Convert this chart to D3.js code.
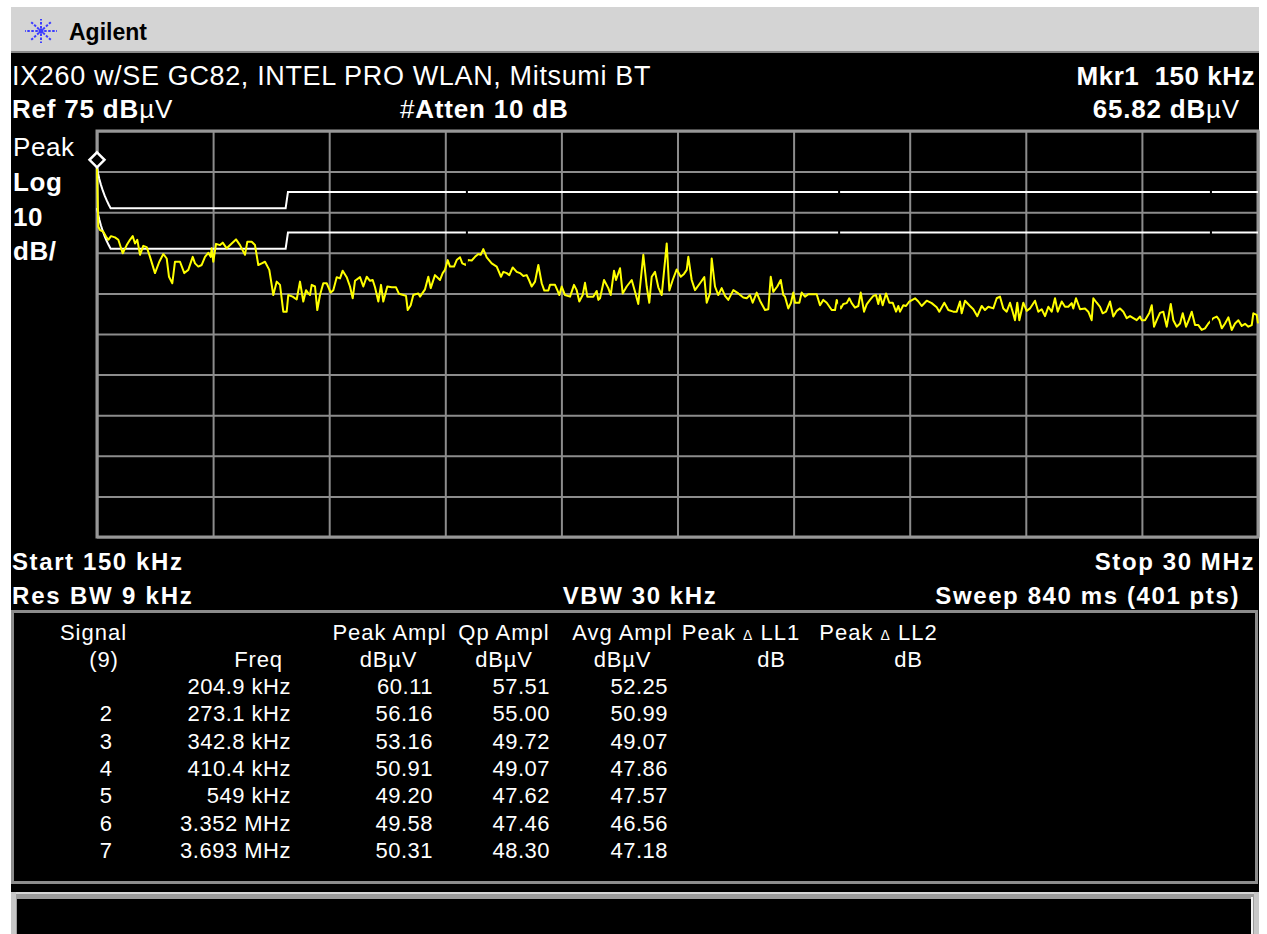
<!DOCTYPE html>
<html>
<head>
<meta charset="utf-8">
<script src="https://cdn.jsdelivr.net/npm/d3@7"></script>
<style>
html, body { margin: 0; padding: 0; background: #fff; }
svg { display: block; }
text { font-family: "Liberation Sans", Arial, Helvetica, sans-serif; fill: #fff; white-space: pre; }
</style>
</head>
<body>
<svg id="chart" width="1267" height="934"></svg>
<script>
// sweep settings
var startMHz = 0.15
var stopMHz = 30
var refLevel = 75
var dbPerDiv = 10
var divisions = 10

// trace (MHz, dBuV)
var traceFreq = [0.150,0.183,0.227,0.312,0.381,0.441,0.510,0.613,0.698,0.811,0.914,0.998,1.068,1.127,1.186,1.256,1.340,1.428,1.513,1.641,
  1.752,1.855,1.942,2.001,2.086,2.155,2.284,2.395,2.497,2.611,2.670,2.755,2.842,2.927,3.012,3.073,3.099,3.140,3.210,3.312,
  3.382,3.485,3.613,3.724,3.827,3.955,4.014,4.127,4.212,4.297,4.385,4.469,4.580,4.683,4.770,4.855,4.940,5.027,5.068,5.181,
  5.284,5.369,5.454,5.524,5.583,5.626,5.670,5.755,5.814,5.883,5.968,6.056,6.159,6.225,6.313,6.398,6.467,6.570,6.655,6.724,
  6.783,6.912,6.997,7.084,7.169,7.238,7.298,7.383,7.452,7.511,7.614,7.727,7.838,7.915,8.025,8.095,8.139,8.216,8.282,8.411,
  8.455,8.583,8.668,8.730,8.840,8.969,9.038,9.097,9.167,9.226,9.329,9.398,9.483,9.542,9.637,9.681,9.784,9.869,9.954,10.015,
  10.082,10.170,10.298,10.427,10.537,10.597,10.684,10.751,10.838,10.941,11.026,11.111,11.198,11.257,11.327,11.412,11.497,11.584,11.651,11.754,
  11.797,11.926,11.985,12.037,12.098,12.183,12.312,12.414,12.483,12.550,12.638,12.697,12.756,12.910,12.997,13.039,13.083,13.186,13.296,13.358,
  13.443,13.494,13.597,13.666,13.769,13.898,13.983,14.067,14.196,14.283,14.350,14.412,14.497,14.582,14.669,14.798,14.865,14.952,15.055,15.158,
  15.242,15.312,15.353,15.440,15.525,15.654,15.764,15.826,15.911,15.954,16.039,16.124,16.211,16.297,16.381,16.510,16.639,16.767,16.855,16.939,
  17.008,17.111,17.196,17.325,17.410,17.472,17.538,17.641,17.729,17.796,17.839,17.924,17.993,18.053,18.096,18.207,18.268,18.353,18.438,18.654,
  18.739,18.824,18.911,19.040,19.125,19.168,19.271,19.338,19.425,19.492,19.554,19.639,19.724,19.786,19.871,19.939,20.024,20.109,20.179,20.238,
  20.282,20.350,20.436,20.521,20.609,20.694,20.753,20.796,20.881,20.950,21.035,21.182,21.267,21.353,21.482,21.611,21.739,21.806,21.935,22.038,
  22.166,22.254,22.338,22.382,22.467,22.595,22.681,22.783,22.896,22.981,23.066,23.195,23.282,23.367,23.452,23.539,23.624,23.692,23.752,23.811,
  23.863,23.966,24.053,24.138,24.267,24.352,24.439,24.524,24.609,24.696,24.781,24.850,24.953,25.038,25.123,25.210,25.251,25.321,25.424,25.552,
  25.637,25.724,25.766,25.853,25.938,26.007,26.092,26.195,26.280,26.368,26.453,26.538,26.625,26.710,26.795,26.882,26.967,27.010,27.095,27.206,
  27.268,27.327,27.396,27.481,27.566,27.654,27.757,27.823,27.911,27.996,28.065,28.150,28.219,28.297,28.381,28.466,28.553,28.638,28.723,28.852,
  28.939,29.006,29.068,29.153,29.238,29.325,29.410,29.495,29.582,29.667,29.752,29.839,29.880,29.967,30.000]
var traceLevel = [65.8,51.4,50.6,50.2,49.0,48.2,49.1,48.8,48.2,44.9,46.9,48.2,49.1,47.3,48.2,44.5,46.7,46.4,44.0,40.0,
  42.8,44.7,43.6,39.1,37.5,42.8,42.8,40.0,40.8,44.0,42.4,41.6,42.0,44.0,45.0,44.0,46.1,42.8,47.2,46.9,
  47.5,46.1,47.3,48.3,46.9,44.5,47.7,47.7,46.9,42.0,42.4,42.8,40.8,34.6,37.9,37.1,30.5,30.5,34.6,34.2,
  33.5,37.9,33.0,35.8,35.0,34.6,37.1,36.7,30.9,34.6,37.5,37.5,35.2,35.8,39.0,38.7,40.6,39.0,36.7,33.8,
  38.1,39.0,36.7,39.1,38.1,38.3,36.5,33.0,37.1,33.0,36.7,36.5,36.5,34.9,34.6,34.4,30.9,32.1,34.6,35.0,
  34.2,36.0,39.1,36.3,39.5,38.3,40.0,40.8,43.2,41.6,41.6,43.2,43.9,42.4,42.0,43.2,43.1,44.0,44.7,44.5,
  45.9,43.9,42.4,41.6,39.1,40.3,40.0,39.5,41.4,40.3,40.0,39.3,39.5,38.3,36.7,37.9,42.0,37.5,35.7,35.7,
  37.1,37.1,35.8,34.6,36.7,34.6,34.2,37.1,35.8,33.0,34.6,37.6,34.2,34.2,35.6,33.4,33.8,38.3,36.3,34.6,
  40.6,38.3,41.2,35.0,36.7,38.3,35.4,32.4,44.5,36.7,32.7,39.1,40.3,36.5,34.6,47.3,35.7,38.3,40.9,39.1,
  39.8,40.8,44.0,38.3,35.8,37.5,39.0,32.7,35.0,43.6,36.7,34.6,36.3,34.4,33.4,35.8,35.0,34.0,33.8,34.6,
  32.7,35.2,33.2,30.9,31.1,39.1,35.4,36.7,38.3,34.6,34.2,31.3,32.7,35.2,32.7,32.7,35.2,34.2,34.8,34.8,
  32.1,33.4,32.7,30.9,30.9,33.4,31.3,32.4,32.6,33.8,32.6,31.5,31.9,35.2,30.5,32.3,33.4,34.4,34.6,32.4,
  34.6,32.1,35.0,32.7,32.7,30.5,31.9,30.5,32.1,31.9,33.0,33.8,33.0,31.9,33.2,32.6,31.6,30.5,32.7,30.9,
  30.5,30.5,33.0,30.1,33.2,31.9,31.1,29.4,31.9,30.9,31.7,31.3,33.8,34.2,31.3,30.5,32.7,30.5,28.4,32.7,
  28.4,32.7,30.7,31.3,33.2,30.5,31.1,29.4,31.7,30.5,33.8,30.5,33.0,31.7,31.7,32.6,31.3,33.8,31.1,31.3,
  30.5,28.4,33.8,32.7,31.7,30.1,30.5,33.0,29.3,30.7,31.3,30.5,28.9,29.4,28.9,28.4,29.3,28.4,28.4,30.2,
  32.1,26.8,28.4,30.2,30.5,26.8,32.4,28.4,26.8,27.6,30.1,26.8,28.4,30.5,27.2,27.2,26.0,26.4,27.6,28.9,
  29.3,28.4,26.4,27.6,29.1,26.0,27.6,28.4,27.0,27.5,26.8,27.2,30.1,29.7,27.6]

// display segment breaks seen on trace + limit lines
var traceBreaks = [9.66, 19.23, 28.79]

// limit lines (CISPR 22 class B, QP and average)
var limitFreq = [0.15, 0.18, 0.21, 0.25, 0.30, 0.35, 0.40, 0.45, 0.50, 5.00, 5.06, 30]
var qpLimit   = [66.0, 64.5, 63.2, 61.8, 60.3, 59.0, 57.9, 56.9, 56.0, 56.0, 60.0, 60.0]
var avgLimit  = [56.0, 54.5, 53.2, 51.8, 50.3, 49.0, 47.9, 46.9, 46.0, 46.0, 50.0, 50.0]

var markerFreq = 0.15
var markerLevel = 65.82

// signal list
var signalNo = ["", "2", "3", "4", "5", "6", "7"]
var signalFreq = ["204.9 kHz", "273.1 kHz", "342.8 kHz", "410.4 kHz", "549 kHz", "3.352 MHz", "3.693 MHz"]
var peakAmpl = [60.11, 56.16, 53.16, 50.91, 49.20, 49.58, 50.31]
var qpAmpl = [57.51, 55.00, 49.72, 49.07, 47.62, 47.46, 48.30]
var avgAmpl = [52.25, 50.99, 49.07, 47.86, 47.57, 46.56, 47.18]

var svg = d3.select("#chart")
var plot = {left: 97, top: 131, width: 1161, height: 406}

// screen background + title bar
svg.append("rect").attr("x", 11).attr("y", 7).attr("width", 1248).attr("height", 46).attr("fill", "#d4d4d4")
svg.append("rect").attr("x", 11).attr("y", 51).attr("width", 1248).attr("height", 2).attr("fill", "#8a8a8a")
svg.append("rect").attr("x", 11).attr("y", 53).attr("width", 1248).attr("height", 881).attr("fill", "#000")

// agilent spark logo
var logo = svg.append("g").attr("transform", "translate(41,31)")
var rays = [[16, 0], [-16, 0], [0, 12], [0, -12], [10, 9], [-10, 9], [10, -9], [-10, -9]]
rays.forEach(function(r) {
   logo.append("line")
      .attr("x1", r[0] * 0.2).attr("y1", r[1] * 0.2)
      .attr("x2", r[0]).attr("y2", r[1])
      .attr("stroke", "#3c3cff")
      .attr("stroke-width", 2)
      .attr("stroke-dasharray", "2.5,1.5")
})
logo.append("circle").attr("r", 2.5).attr("fill", "#3c3cff")
svg.append("text").attr("x", 69).attr("y", 40)
   .style("font-size", "23px").style("font-weight", "bold").style("fill", "#000")
   .text("Agilent")

var x = d3.scaleLinear().domain([startMHz, stopMHz]).range([plot.left, plot.left + plot.width])
var y = d3.scaleLinear().domain([refLevel - dbPerDiv * divisions, refLevel]).range([plot.top + plot.height, plot.top])

// graticule
var xTicks = d3.range(divisions + 1).map(i => startMHz + i * (stopMHz - startMHz) / divisions)
var yTicks = d3.range(divisions + 1).map(i => refLevel - i * dbPerDiv)

svg.append("g")
   .attr("class", "grid")
   .attr("transform", "translate(0," + (plot.top + plot.height) + ")")
   .call(d3.axisBottom(x).tickValues(xTicks).tickSize(-plot.height).tickFormat(""))
svg.append("g")
   .attr("class", "grid")
   .attr("transform", "translate(" + plot.left + ",0)")
   .call(d3.axisLeft(y).tickValues(yTicks).tickSize(-plot.width).tickFormat(""))
d3.selectAll(".grid .domain").remove()
d3.selectAll(".grid line").attr("stroke", "#8c8c8c").attr("stroke-width", 2)

svg.append("rect")
   .attr("x", plot.left).attr("y", plot.top)
   .attr("width", plot.width).attr("height", plot.height)
   .attr("fill", "none").attr("stroke", "#979797").attr("stroke-width", 3)

// clip with small gaps where the display splits the sweep
var edges = [plot.left - 4].concat(traceBreaks.map(x)).concat([plot.left + plot.width + 4])
var clip = svg.append("clipPath").attr("id", "sweep-clip")
for (var i = 0; i < edges.length - 1; i++) {
   var x0 = i == 0 ? edges[i] : edges[i] + 1
   var x1 = i == edges.length - 2 ? edges[i + 1] : edges[i + 1] - 1
   clip.append("rect").attr("x", x0).attr("y", 60).attr("width", x1 - x0).attr("height", 500)
}

var line = d3.line().x(d => x(d[0])).y(d => y(d[1]))

svg.append("path")
   .datum(d3.zip(limitFreq, qpLimit))
   .attr("d", line).attr("clip-path", "url(#sweep-clip)")
   .attr("fill", "none").attr("stroke", "#fff").attr("stroke-width", 2)
svg.append("path")
   .datum(d3.zip(limitFreq, avgLimit))
   .attr("d", line).attr("clip-path", "url(#sweep-clip)")
   .attr("fill", "none").attr("stroke", "#fff").attr("stroke-width", 2)

svg.append("path")
   .datum(d3.zip(traceFreq, traceLevel))
   .attr("d", line).attr("clip-path", "url(#sweep-clip)")
   .attr("fill", "none").attr("stroke", "#ffff00").attr("stroke-width", 2)
   .attr("stroke-linejoin", "round")

// marker diamond sits on top of the point
var mx = x(markerFreq), my = y(markerLevel)
svg.append("path")
   .attr("d", "M" + mx + "," + (my - 16) + " L" + (mx + 7.5) + "," + (my - 8.5) + " L" + mx + "," + (my - 1) + " L" + (mx - 7.5) + "," + (my - 8.5) + "Z")
   .attr("fill", "#000").attr("stroke", "#fff").attr("stroke-width", 2.5)

// annotation text
function label(px, py, parts, size, anchor, spacing) {
   var t = svg.append("text").attr("x", px).attr("y", py)
      .style("font-size", size + "px")
      .style("letter-spacing", (spacing || 0) + "px")
      .attr("text-anchor", anchor || "start")
   parts.forEach(function(p) {
      t.append("tspan").style("font-weight", p[1] ? "bold" : "normal")
         .style("font-size", p[2] ? p[2] + "px" : null)
         .text(p[0])
   })
   return t
}

label(12, 85, [["IX260 w/SE GC82, INTEL PRO WLAN, Mitsumi BT", 0]], 27, "start", 0.65)
label(1255, 85, [["Mkr1  150 kHz", 1]], 26, "end", 0.5)
label(12, 118, [["Ref 75 dB", 1], ["µV", 0]], 26, "start", 0.8)
label(400, 118, [["#", 0], ["Atten 10 dB", 1]], 26, "start", 0.8)
label(1240, 118, [["65.82 dB", 1], ["µV", 0]], 26, "end", 0.8)

label(13, 156, [["Peak", 0]], 26, "start", 0.6)
label(13, 191, [["Log", 1]], 26, "start", 0.6)
label(13, 226, [["10", 1]], 26, "start", 0.6)
label(13, 260, [["dB/", 1]], 26, "start", 0.6)

label(12, 570, [["Start 150 kHz", 1]], 24, "start", 1.6)
label(1255, 570, [["Stop 30 MHz", 1]], 24, "end", 1.6)
label(12, 604, [["Res BW 9 kHz", 1]], 24, "start", 1.8)
label(640, 604, [["VBW 30 kHz", 1]], 24, "middle", 1.6)
label(1240, 604, [["Sweep 840 ms (401 pts)", 1]], 24, "end", 1.6)

// signal list panel
svg.append("rect")
   .attr("x", 12.5).attr("y", 611.5).attr("width", 1244).attr("height", 271)
   .attr("fill", "none").attr("stroke", "#8c8c8c").attr("stroke-width", 3)

var hdr = [
   [93.5, [["Signal", 0]], [["(9)", 0]], 104],
   [258.5, null, [["Freq", 0]]],
   [389.5, [["Peak Ampl", 0]], [["dBµV", 0]], 388.5],
   [504, [["Qp Ampl", 0]], [["dBµV", 0]]],
   [622.5, [["Avg Ampl", 0]], [["dBµV", 0]]],
   [741, [["Peak ", 0], ["Δ", 0, 14], [" LL1", 0]], [["dB", 0]], 771.5],
   [878.5, [["Peak ", 0], ["Δ", 0, 14], [" LL2", 0]], [["dB", 0]], 908.5]
]
hdr.forEach(function(h) {
   if (h[1]) label(h[0], 640, h[1], 22, "middle", 1)
   label(h[3] || h[0], 667, h[2], 22, "middle", 0.8)
})

var rowY = d3.scaleLinear().domain([0, signalFreq.length - 1]).range([694, 858])
var fmt = d3.format(".2f")
signalFreq.forEach(function(f, i) {
   label(106, rowY(i), [[signalNo[i], 0]], 22, "middle", 0.5)
   label(291, rowY(i), [[f, 0]], 22, "end", 0.5)
   label(433, rowY(i), [[fmt(peakAmpl[i]), 0]], 22, "end", 0.5)
   label(550, rowY(i), [[fmt(qpAmpl[i]), 0]], 22, "end", 0.5)
   label(668, rowY(i), [[fmt(avgAmpl[i]), 0]], 22, "end", 0.5)
})

// bottom message box (bevelled)
svg.append("rect").attr("x", 11).attr("y", 892).attr("width", 1248).attr("height", 42).attr("fill", "#9c9c9c")
svg.append("rect").attr("x", 11).attr("y", 892).attr("width", 1248).attr("height", 2).attr("fill", "#d6d6d6")
svg.append("rect").attr("x", 11).attr("y", 892).attr("width", 5).attr("height", 42).attr("fill", "#c8c8c8")
svg.append("rect").attr("x", 1254).attr("y", 892).attr("width", 5).attr("height", 42).attr("fill", "#c8c8c8")
svg.append("rect").attr("x", 1251).attr("y", 897).attr("width", 2).attr("height", 37).attr("fill", "#f2f2f2")
svg.append("rect").attr("x", 17).attr("y", 899).attr("width", 1234).attr("height", 35).attr("fill", "#000")
</script>
</body>
</html>
